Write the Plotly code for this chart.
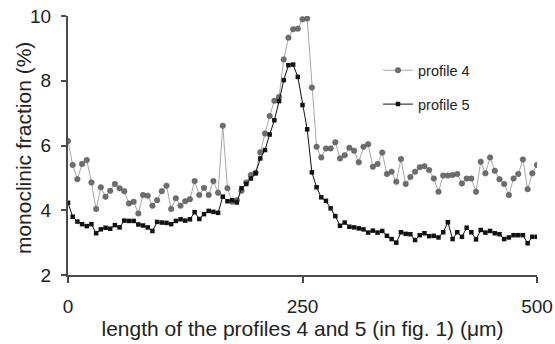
import plotly.graph_objects as go

positions_um = list(range(0, 505, 5))

profile_4 = [
    6.14, 5.40, 4.96, 5.43, 5.55, 4.86, 4.04, 4.71, 4.42, 4.60,
    4.81, 4.68, 4.59, 4.21, 4.26, 3.90, 4.47, 4.45, 4.14, 4.31,
    4.59, 4.76, 4.04, 4.37, 4.14, 4.28, 4.34, 4.90, 4.47, 4.69,
    4.47, 4.90, 4.54, 6.61, 4.68, 4.26, 4.31, 4.60, 4.86, 5.09,
    5.16, 5.79, 6.37, 6.91, 7.38, 7.50, 8.66, 9.33, 9.59, 9.61,
    9.90, 9.92, 7.79, 5.96, 5.63, 5.91, 5.91, 6.10, 5.60, 5.70,
    5.93, 5.84, 5.48, 5.96, 6.04, 5.34, 5.43, 5.78, 5.12, 5.19,
    4.88, 5.58, 4.81, 5.03, 5.19, 5.33, 5.36, 5.24, 4.98, 4.57,
    5.07, 5.07, 5.09, 5.12, 4.83, 4.98, 4.98, 4.57, 5.50, 5.14,
    5.63, 5.22, 4.96, 4.81, 4.47, 4.98, 5.12, 5.57, 4.65, 5.14,
    5.40,
]

profile_5 = [
    4.23, 3.80, 3.65, 3.57, 3.51, 3.57, 3.29, 3.41, 3.46, 3.43,
    3.54, 3.47, 3.68, 3.67, 3.67, 3.56, 3.53, 3.47, 3.36, 3.64,
    3.62, 3.61, 3.57, 3.67, 3.72, 3.68, 3.72, 3.94, 3.73, 3.88,
    3.98, 3.95, 3.92, 4.42, 4.28, 4.31, 4.24, 4.68, 4.81, 4.98,
    5.14, 5.60, 5.86, 6.34, 6.78, 7.37, 8.02, 8.48, 8.50, 8.12,
    7.25, 6.50, 5.17, 4.71, 4.40, 4.29, 4.06, 3.82, 3.52, 3.62,
    3.49, 3.47, 3.44, 3.41, 3.31, 3.37, 3.31, 3.36, 3.21, 3.11,
    3.00, 3.32, 3.27, 3.26, 3.08, 3.23, 3.29, 3.20, 3.21, 3.16,
    3.32, 3.63, 3.11, 3.32, 3.18, 3.46, 3.32, 3.10, 3.39, 3.31,
    3.36, 3.29, 3.26, 3.11, 3.16, 3.23, 3.23, 3.23, 2.98, 3.18,
    3.18,
]

x_ticks = [0, 250, 500]
y_ticks = [2, 4, 6, 8, 10]

FONT = "Liberation Sans, Arial, sans-serif"
TEXT = "#222222"
AXIS = "#4a4a4a"

fig = go.Figure()
fig.add_trace(go.Scatter(
    x=positions_um, y=profile_4, mode="lines+markers", name="profile 4",
    legendgroup="p4",
    line=dict(color="#a8a8a8", width=1),
    marker=dict(symbol="circle", size=5.5, color="#6e6e6e",
                line=dict(color="#555555", width=0.5)),
))
fig.add_trace(go.Scatter(
    x=positions_um, y=profile_5, mode="lines+markers", name="profile 5",
    legendgroup="p5",
    line=dict(color="#111111", width=1),
    marker=dict(symbol="square", size=4.5, color="#111111"),
))

fig.update_layout(
    width=555, height=344,
    margin=dict(l=68, r=18, t=16, b=69),
    paper_bgcolor="white", plot_bgcolor="white",
    font=dict(family=FONT, color=TEXT),
    legend=dict(
        x=0.661, y=0.852, xanchor="left", yanchor="top",
        font=dict(size=14.5, family=FONT, color=TEXT),
        bgcolor="rgba(0,0,0,0)", tracegroupgap=12,
        itemwidth=30,
    ),
    xaxis=dict(
        range=[0, 500], tickvals=x_ticks, ticktext=[str(v) for v in x_ticks],
        automargin=False,
        showline=True, linecolor=AXIS, linewidth=2,
        ticks="outside", ticklen=6, tickwidth=2, tickcolor=AXIS,
        tickfont=dict(size=19, family=FONT, color=TEXT),
        ticklabelstandoff=7,
        showgrid=False, zeroline=False,
        title=dict(text="length of the profiles 4 and 5 (in fig. 1) (μm)",
                   font=dict(size=21, family=FONT, color=TEXT), standoff=5),
    ),
    yaxis=dict(
        range=[2, 10], tickvals=y_ticks,
        automargin=False,
        showline=True, linecolor=AXIS, linewidth=2,
        ticks="outside", ticklen=5, tickwidth=2, tickcolor=AXIS,
        tickfont=dict(size=19, family=FONT, color=TEXT),
        ticklabelstandoff=6,
        showgrid=False, zeroline=False,
    ),
    annotations=[dict(
        text="monoclinic fraction (%)", textangle=-90,
        xref="paper", yref="paper", x=0, y=0.49,
        xanchor="center", yanchor="middle", xshift=-45,
        showarrow=False, font=dict(size=21, family=FONT, color=TEXT),
    )],
)

fig.write_html("out.html")
